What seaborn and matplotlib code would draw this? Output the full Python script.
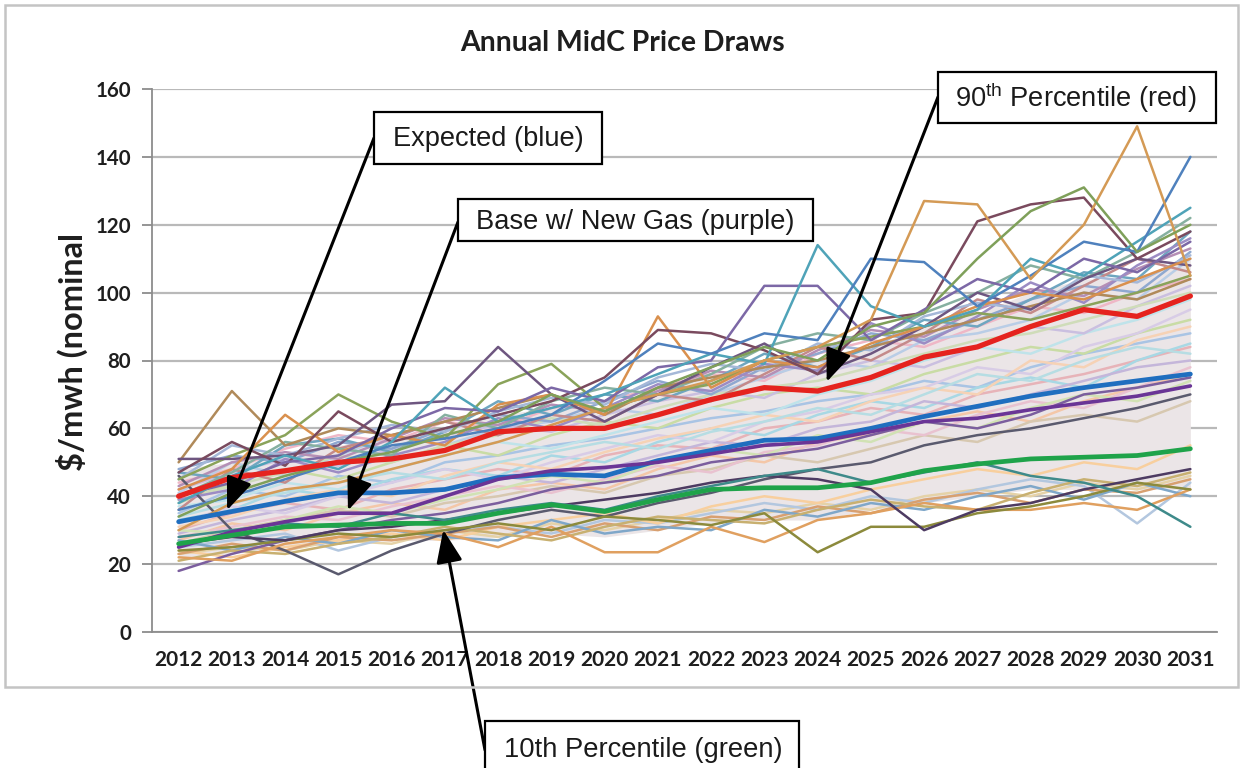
import numpy as np
import pandas as pd
import matplotlib
matplotlib.use('Agg')
import matplotlib.pyplot as plt
from matplotlib.patches import Rectangle
import seaborn as sns

# years on the x axis
years = list(range(2012, 2032))

# the four highlighted lines
p90 = [40, 45.5, 47.5, 50, 51, 53.5, 59, 60, 60, 64, 68.5, 72, 71, 75, 81, 84, 90, 95, 93, 99]
expected = [32.5, 35.5, 38.5, 41, 41, 42, 45.5, 46.5, 46, 50.5, 53.5, 56.5, 57, 60, 63.5, 66.5, 69.5, 72, 74, 76]
base_new_gas = [25, 29.5, 32.5, 35, 35, 40, 45, 47.5, 48.5, 50, 52.5, 55, 56, 59, 62, 63, 65.5, 67.5, 69.5, 72.5]
p10 = [26, 28.5, 31, 31.5, 32, 32, 35, 37.5, 35.5, 39, 42, 42.5, 42.5, 44, 47.5, 49.5, 51, 51.5, 52, 54]

# the thick pastel mass of draws (lower / upper edge of it)
band_low = [22, 23, 25, 26, 27, 27, 28, 29, 28, 30, 32, 33, 33, 36, 38, 40, 42, 42, 42, 42]
band_high = [48, 50, 52, 55, 57, 60, 64, 66, 66, 72, 76, 80, 80, 84, 90, 94, 100, 104, 104, 110]

# single price draws (pastel ones first, then the darker outliers)
price_draws = [
    [35, 42, 40, 46, 44, 50, 52, 55, 57, 60, 63, 65, 68, 70, 74, 72, 78, 82, 85, 88],
    [30, 35, 38, 36, 42, 45, 48, 46, 52, 55, 54, 60, 62, 66, 64, 70, 73, 76, 80, 84],
    [27, 32, 30, 35, 38, 36, 42, 44, 42, 48, 52, 50, 56, 58, 62, 65, 62, 68, 72, 76],
    [33, 36, 42, 40, 45, 48, 46, 52, 50, 56, 60, 58, 64, 68, 66, 72, 75, 72, 80, 85],
    [38, 44, 48, 45, 50, 55, 52, 58, 62, 60, 66, 70, 72, 70, 76, 80, 84, 82, 88, 92],
    [29, 33, 36, 40, 38, 42, 46, 44, 48, 52, 56, 55, 60, 62, 68, 66, 70, 74, 78, 80],
    [23, 25, 24, 27, 26, 30, 28, 32, 30, 33, 36, 35, 38, 36, 40, 42, 40, 44, 42, 46],
    [25, 27, 29, 24, 28, 30, 31, 29, 33, 32, 35, 38, 36, 40, 38, 42, 45, 43, 32, 44],
    [44, 48, 54, 58, 56, 62, 60, 66, 68, 72, 76, 74, 82, 86, 84, 90, 96, 94, 100, 104],
    [41, 50, 46, 52, 58, 55, 60, 62, 66, 64, 70, 75, 80, 78, 86, 88, 92, 100, 98, 110],
    [32, 37, 35, 40, 44, 48, 45, 50, 54, 58, 56, 62, 65, 70, 72, 78, 76, 84, 88, 95],
    [31, 34, 39, 42, 40, 46, 50, 48, 53, 57, 60, 64, 62, 68, 72, 70, 80, 78, 86, 90],
    [37, 39, 44, 42, 48, 52, 56, 54, 58, 62, 66, 64, 70, 74, 80, 84, 82, 88, 92, 98],
    [26, 30, 33, 36, 34, 38, 40, 43, 41, 46, 48, 52, 50, 54, 58, 56, 62, 64, 62, 68],
    [34, 38, 41, 44, 47, 45, 50, 53, 56, 54, 59, 62, 66, 64, 70, 76, 74, 80, 84, 82],
    [28, 31, 34, 33, 37, 40, 43, 41, 45, 49, 47, 53, 55, 60, 58, 64, 68, 66, 72, 78],
    [30, 29, 33, 37, 35, 39, 42, 46, 44, 50, 54, 52, 58, 56, 62, 60, 66, 70, 68, 74],
    [24, 22, 25, 27, 29, 27, 31, 33, 35, 32, 37, 40, 38, 42, 45, 48, 46, 50, 48, 55],
    [42, 47, 51, 49, 54, 58, 61, 59, 64, 68, 71, 69, 76, 80, 78, 84, 90, 88, 96, 102],
    [39, 43, 47, 52, 50, 55, 58, 63, 61, 66, 70, 72, 74, 78, 82, 86, 88, 92, 96, 100],
    [48, 52, 50, 56, 54, 60, 64, 62, 68, 74, 70, 78, 82, 88, 86, 92, 98, 102, 100, 112],
    [43, 50, 53, 51, 57, 63, 61, 67, 65, 71, 77, 75, 83, 89, 87, 95, 101, 99, 107, 113],
    [47, 45, 55, 57, 53, 59, 68, 64, 70, 68, 74, 82, 78, 84, 92, 90, 98, 106, 104, 118],
    [36, 48, 44, 54, 58, 62, 58, 64, 62, 70, 68, 76, 84, 80, 88, 98, 94, 102, 110, 106],
    [39, 42, 51, 47, 52, 56, 63, 60, 66, 73, 71, 79, 77, 91, 85, 93, 103, 97, 108, 116],
    [23, 26, 24, 28, 27, 29, 31, 28, 32, 30, 34, 33, 37, 35, 39, 41, 38, 42, 41, 45],
    [27, 24, 28, 26, 30, 28, 27, 33, 29, 31, 30, 36, 34, 38, 36, 40, 43, 39, 44, 40],
    [21, 24, 23, 26, 28, 31, 29, 27, 31, 34, 33, 32, 36, 39, 37, 36, 41, 45, 43, 47],
    [45, 55, 52, 57, 61, 59, 65, 69, 67, 75, 79, 77, 85, 83, 93, 97, 95, 105, 103, 111],
    [40, 47, 56, 54, 52, 64, 60, 68, 72, 70, 76, 84, 88, 86, 94, 100, 108, 104, 112, 122],
    [50, 71, 55, 60, 58, 62, 66, 70, 64, 72, 75, 78, 80, 84, 88, 92, 96, 100, 98, 104],
    [46, 30, 24, 17, 24, 29, 33, 36, 34, 38, 41, 45, 48, 50, 55, 58, 60, 63, 66, 70],
    [18, 23, 27, 30, 33, 35, 38, 42, 44, 46, 50, 52, 54, 58, 62, 60, 64, 70, 72, 75],
    [45, 52, 58, 70, 62, 57, 73, 79, 66, 70, 73, 80, 84, 87, 90, 94, 92, 96, 100, 105],
    [51, 51, 52, 55, 67, 68, 84, 70, 62, 70, 78, 85, 76, 82, 90, 100, 95, 104, 110, 108],
    [42, 48, 64, 53, 58, 55, 67, 70, 64, 93, 72, 80, 78, 85, 90, 96, 100, 98, 104, 110],
    [47, 56, 49, 65, 56, 60, 64, 68, 75, 89, 88, 83, 76, 92, 94, 121, 126, 128, 110, 118],
    [40, 44, 50, 52, 60, 66, 65, 72, 68, 78, 80, 102, 102, 86, 95, 104, 100, 110, 106, 115],
    [38, 46, 52, 48, 56, 72, 62, 66, 70, 76, 82, 79, 114, 96, 90, 95, 110, 105, 115, 125],
    [36, 40, 45, 50, 55, 57, 60, 64, 74, 85, 82, 88, 86, 110, 109, 96, 105, 115, 112, 140],
    [30, 38, 42, 44, 48, 52, 56, 61, 66, 70, 74, 80, 84, 92, 127, 126, 104, 120, 149, 105],
    [34, 41, 46, 50, 53, 58, 62, 70, 65, 72, 78, 84, 80, 90, 94, 110, 124, 131, 112, 120],
    [22, 21, 26, 28, 30, 29, 25, 31, 23.5, 23.5, 31, 26.5, 33, 35, 38, 36, 36, 38, 36, 42],
    [24, 25, 27, 29, 28, 30, 32, 30, 34, 33, 31.5, 35, 23.5, 31, 31, 35, 37, 40, 44, 42],
    [26, 28, 27, 30, 31, 33, 35, 37, 39, 41, 44, 46, 45, 42, 30, 36, 38, 42, 45, 48],
    [28, 30, 32, 31, 35, 33, 36, 38, 36, 40, 43, 46, 48, 44, 47, 50, 46, 44, 40, 31],
]
draw_colors = ['#a9c4e4', '#e7b3b8', '#f4c7a8', '#a8d8e4', '#c9dca5', '#c4b6da', '#e5d2a8',
               '#b3c7df', '#efb7c6', '#b9cde6', '#d8cce6', '#f6d2b5', '#bfe3ea', '#d7c8b0',
               '#b6dde3', '#e9c2d0', '#d1e2b4', '#f8cf9e', '#cabfe0', '#cfdcb9',
               '#8fa8d0', '#b58fb5', '#6fa6c0', '#c48a8a', '#9c8cc4', '#d8a070', '#7fa7c9',
               '#c8b070', '#a5b8d8', '#86b0a0',
               '#b08a5a', '#5a5a6e', '#7b5e9e', '#8aa35a', '#6e5680', '#d9904e', '#7a4a5e',
               '#7c68a6', '#4fa3b8', '#4f81bd', '#d49a55', '#7fa05a', '#e0a060', '#8c8a3c',
               '#4d3b62', '#3e8a8a']

sns.set_style('white')
plt.rcParams['font.family'] = ['Lato', 'DejaVu Sans']
plt.rcParams['mathtext.fontset'] = 'custom'
plt.rcParams['mathtext.rm'] = 'Liberation Sans'

W, H = 1241, 768
fig = plt.figure(figsize=(W / 100, H / 100), dpi=100)
ax = fig.add_axes([152 / W, 1 - 632 / H, (1217 - 152) / W, (632 - 89) / H])

# outer chart frame
fig.patches.append(Rectangle((5 / W, 1 - 687 / H), 1233 / W, 682 / H, transform=fig.transFigure,
                             fill=False, ec='#c4c4c4', lw=1.8))

ax.fill_between(years, band_low, band_high, color='#ebe5e7', lw=0, zorder=1)

rows = []
for i, vals in enumerate(price_draws):
    for yr, v in zip(years, vals):
        rows.append(('d%02d' % i, yr, v))
draws = pd.DataFrame(rows, columns=['draw', 'year', 'price'])
pal = {'d%02d' % i: c for i, c in enumerate(draw_colors)}
sns.lineplot(data=draws, x='year', y='price', hue='draw', palette=pal, linewidth=1.8,
             estimator=None, legend=False, ax=ax, zorder=2)

key = pd.DataFrame({'year': years * 4,
                    'price': p90 + expected + base_new_gas + p10,
                    'series': ['p90'] * 20 + ['expected'] * 20 + ['base'] * 20 + ['p10'] * 20})
key_pal = {'p90': '#e5231e', 'expected': '#1f6ebf', 'base': '#6a3596', 'p10': '#1fa34a'}
sns.lineplot(data=key, x='year', y='price', hue='series', palette=key_pal, linewidth=3.4,
             legend=False, ax=ax, zorder=5)
for ln, lw in zip(ax.lines[-4:], [3.8, 3.4, 2.6, 3.4]):
    ln.set_linewidth(lw)

ax.set_xlim(2011.5, 2031.5)
ax.set_ylim(0, 160)
ax.set_yticks(range(0, 161, 20))
ax.set_xticks(years)
ax.set_xticklabels([str(y) for y in years])
ax.set_xticks(np.arange(2011.5, 2032, 1), minor=True)
ax.set_xlabel('')
ax.set_ylabel('')
ax.tick_params(axis='x', which='major', length=0, pad=13, labelsize=15, labelcolor='#1e1e1e')
ax.tick_params(axis='x', which='minor', length=8, width=1.3, color='#8c8c8c', direction='out')
ax.tick_params(axis='y', length=7, width=1.3, color='#8c8c8c', pad=8, labelsize=14.8,
               labelcolor='#1e1e1e', left=True)
for lab in ax.get_xticklabels() + ax.get_yticklabels():
    lab.set_fontweight('bold')
ax.grid(axis='y', color='#b9b9b9', lw=1.6)
ax.set_axisbelow(True)
for s in ['top', 'right']:
    ax.spines[s].set_visible(False)
for s in ['left', 'bottom']:
    ax.spines[s].set_color('#8c8c8c')
    ax.spines[s].set_linewidth(1.3)

title = fig.text(622 / W, 1 - 43 / H, 'Annual MidC Price Draws', ha='center', va='center',
                 fontsize=20, fontweight='bold', color='#1e1e1e')
ylab = fig.text(72 / W, 1 - 352 / H, '$/mwh (nominal', ha='center', va='center', rotation=90,
                fontsize=20, fontweight='bold', color='#1e1e1e')

# callout boxes: (text, left, top, right, bottom, text centre x, text centre y, text width)
notes = [
    ('Expected (blue)', 374, 112, 602, 164, 488, 139, 191),
    ('Base w/ New Gas (purple)', 458, 199, 813, 241, 635, 222, 319),
    ('90$^{\\rm th}$ Percentile (red)', 938, 72, 1216, 123, 1076, 98, 242),
    ('10th Percentile (green)', 485, 721, 799, 780, 643, 750, 279),
]
# arrow start (figure pixels from top-left) and data point it points to
arrows = [
    ((374, 138), (2012.91, 35.9)),
    ((458, 222), (2015.18, 35.8)),
    ((938, 97), (2024.17, 73.7)),
    ((485, 750), (2016.97, 30.1)),
]

fig.canvas.draw()
rend = fig.canvas.get_renderer()
title.set_fontsize(title.get_fontsize() * 325 / title.get_window_extent(rend).width)
ylab.set_fontsize(ylab.get_fontsize() * 237 / ylab.get_window_extent(rend).height)

for (txt, x0, y0, x1, y1, tx, ty, tw), (start, tip) in zip(notes, arrows):
    ax.annotate('', xy=tip, xycoords='data', xytext=(start[0], H - start[1]),
                textcoords='figure pixels',
                arrowprops=dict(arrowstyle='-|>,head_length=0.8,head_width=0.32', color='black',
                                lw=2.2, mutation_scale=25, shrinkA=0, shrinkB=0), zorder=8)
    fig.patches.append(Rectangle((x0 / W, 1 - y1 / H), (x1 - x0) / W, (y1 - y0) / H,
                                 transform=fig.transFigure, fc='white', ec='black', lw=1.6,
                                 zorder=2))
    t = fig.text(tx / W, 1 - ty / H, txt, ha='center', va='center', fontsize=19,
                 family=['Liberation Sans', 'DejaVu Sans'], color='#1a1a1a', zorder=3)
    t.set_fontsize(19 * tw / t.get_window_extent(rend).width)

fig.savefig('out.png', dpi=100)
